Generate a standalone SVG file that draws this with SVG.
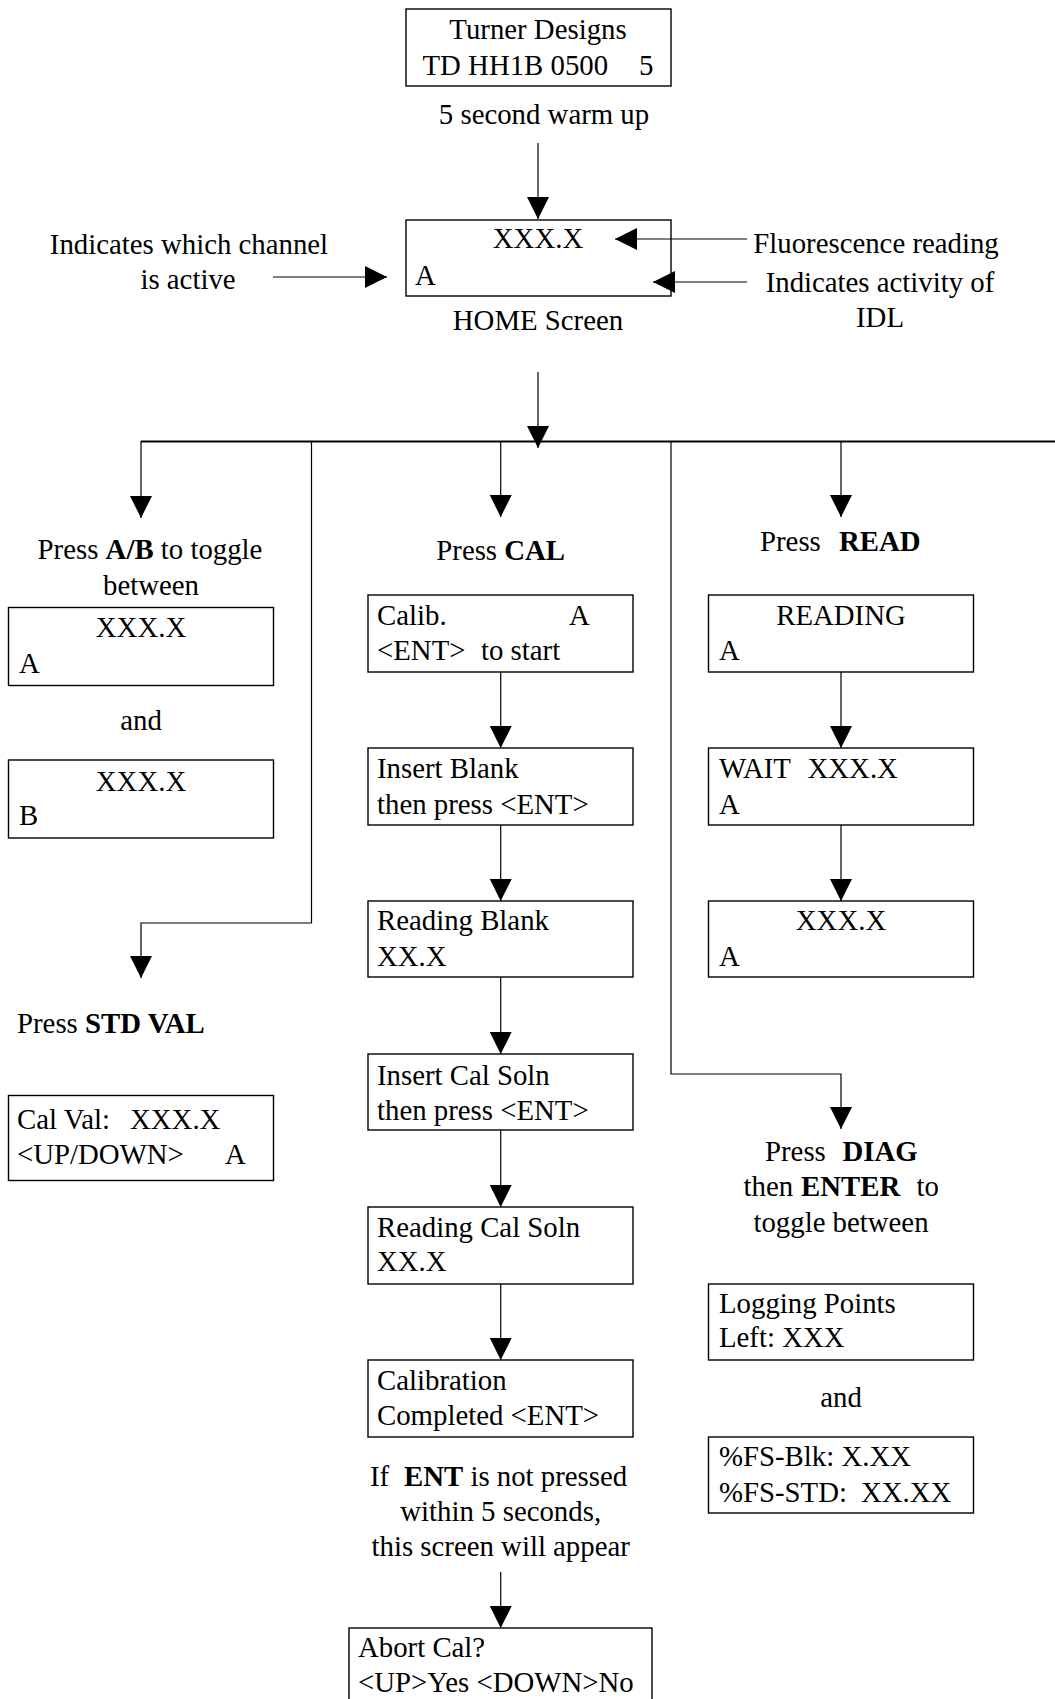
<svg xmlns="http://www.w3.org/2000/svg" width="1055" height="1699" viewBox="0 0 1055 1699">
<style>
text{font-family:"Liberation Serif","Times New Roman",serif;font-size:28.8px;fill:#000}
.m{text-anchor:middle}
.b{font-weight:bold}
.box{fill:none;stroke:#000;stroke-width:1.4}
.c{fill:none;stroke:#000;stroke-width:1.2}
.bus{fill:none;stroke:#000;stroke-width:2.2}
</style>
<defs>
<marker id="ah" markerUnits="userSpaceOnUse" markerWidth="22" markerHeight="22" refX="22" refY="11" orient="auto">
<path d="M0,0 L22,11 L0,22 z" fill="#000"/>
</marker>
</defs>
<rect width="1055" height="1699" fill="#fff"/>

<g id="n-startup">
<rect class="box" x="406" y="9" width="265" height="77"/>
<text class="m" x="538" y="39">Turner Designs</text>
<text x="422.5" y="75">TD HH1B 0500<tspan x="639">5</tspan></text>
</g>
<text id="t-warmup" class="m" x="544" y="124">5 second warm up</text>

<g id="n-home">
<rect class="box" x="406" y="220" width="265" height="76"/>
<text class="m" x="538" y="248">XXX.X</text>
<text x="415" y="285">A</text>
</g>
<text id="t-home" class="m" x="538" y="330">HOME Screen</text>
<g id="t-channel">
<text class="m" x="189" y="254">Indicates which channel</text>
<text class="m" x="188" y="289">is active</text>
</g>
<text id="t-fluor" class="m" x="876" y="253">Fluorescence reading</text>
<g id="t-idl">
<text class="m" x="880" y="292">Indicates activity of</text>
<text class="m" x="880" y="327">IDL</text>
</g>

<g id="col-ab">
<text class="m" x="150" y="559">Press <tspan class="b">A/B</tspan> to toggle</text>
<text class="m" x="151" y="595">between</text>
<g id="n-ab1">
<rect class="box" x="8.5" y="607.5" width="265" height="78"/>
<text class="m" x="141" y="637">XXX.X</text>
<text x="19" y="673">A</text>
</g>
<text class="m" x="141" y="730">and</text>
<g id="n-ab2">
<rect class="box" x="8.5" y="760" width="265" height="78"/>
<text class="m" x="141" y="791">XXX.X</text>
<text x="19" y="825">B</text>
</g>
</g>

<g id="col-std">
<text x="17" y="1033">Press <tspan class="b">STD VAL</tspan></text>
<g id="n-calval">
<rect class="box" x="8.5" y="1095.5" width="265" height="85"/>
<text x="17" y="1129">Cal Val:<tspan x="130">XXX.X</tspan></text>
<text x="17" y="1164">&lt;UP/DOWN&gt;<tspan x="225">A</tspan></text>
</g>
</g>

<g id="col-cal">
<text class="m" x="500.7" y="560">Press <tspan class="b">CAL</tspan></text>
<g id="n-calib">
<rect class="box" x="368" y="595" width="265" height="77"/>
<text x="377" y="625">Calib.<tspan x="569">A</tspan></text>
<text x="377" y="660">&lt;ENT&gt;<tspan x="481">to start</tspan></text>
</g>
<g id="n-insblank">
<rect class="box" x="368" y="748" width="265" height="77"/>
<text x="377" y="778">Insert Blank</text>
<text x="377" y="814">then press &lt;ENT&gt;</text>
</g>
<g id="n-readblank">
<rect class="box" x="368" y="901" width="265" height="76"/>
<text x="377" y="930">Reading Blank</text>
<text x="377" y="966">XX.X</text>
</g>
<g id="n-inscal">
<rect class="box" x="368" y="1054" width="265" height="76"/>
<text x="377" y="1085">Insert Cal Soln</text>
<text x="377" y="1120">then press &lt;ENT&gt;</text>
</g>
<g id="n-readcal">
<rect class="box" x="368" y="1207" width="265" height="77"/>
<text x="377" y="1237">Reading Cal Soln</text>
<text x="377" y="1271">XX.X</text>
</g>
<g id="n-calcomp">
<rect class="box" x="368" y="1360" width="265" height="77"/>
<text x="377" y="1390">Calibration</text>
<text x="377" y="1425">Completed &lt;ENT&gt;</text>
</g>
<text x="370" y="1486">If <tspan class="b" x="404">ENT</tspan> is not pressed</text>
<text class="m" x="500.7" y="1521">within 5 seconds,</text>
<text class="m" x="500.7" y="1556">this screen will appear</text>
<g id="n-abort">
<rect class="box" x="349" y="1628" width="303" height="90"/>
<text x="358" y="1657">Abort Cal?</text>
<text x="358" y="1692">&lt;UP&gt;Yes &lt;DOWN&gt;No</text>
</g>
</g>

<g id="col-read">
<text x="760" y="551">Press<tspan class="b" x="839">READ</tspan></text>
<g id="n-reading">
<rect class="box" x="708.5" y="595" width="265" height="77"/>
<text class="m" x="841" y="625">READING</text>
<text x="719" y="660">A</text>
</g>
<g id="n-wait">
<rect class="box" x="708.5" y="748" width="265" height="77"/>
<text x="719" y="778">WAIT<tspan x="807.5">XXX.X</tspan></text>
<text x="719" y="814">A</text>
</g>
<g id="n-result">
<rect class="box" x="708.5" y="901" width="265" height="76"/>
<text class="m" x="841" y="930">XXX.X</text>
<text x="719" y="966">A</text>
</g>
</g>

<g id="col-diag">
<text x="765" y="1161">Press<tspan class="b" x="842.5">DIAG</tspan></text>
<text x="743.6" y="1196">then <tspan class="b" x="801">ENTER</tspan><tspan x="916.6">to</tspan></text>
<text class="m" x="841" y="1232">toggle between</text>
<g id="n-logging">
<rect class="box" x="708.5" y="1284" width="265" height="76"/>
<text x="719" y="1313">Logging Points</text>
<text x="719" y="1347">Left: XXX</text>
</g>
<text class="m" x="841" y="1407">and</text>
<g id="n-fs">
<rect class="box" x="708.5" y="1437" width="265" height="76"/>
<text x="719" y="1466">%FS-Blk: X.XX</text>
<text x="719" y="1502">%FS-STD:<tspan x="861">XX.XX</tspan></text>
</g>
</g>

<g id="connectors">
<path class="c" d="M538,143 V219" marker-end="url(#ah)"/>
<path class="c" d="M747,239 H615" marker-end="url(#ah)"/>
<path class="c" d="M747,282 H653" marker-end="url(#ah)"/>
<path class="c" d="M273,277 H387" marker-end="url(#ah)"/>
<path class="bus" d="M141,441.5 H1055"/>
<path class="c" d="M141,441 V518" marker-end="url(#ah)"/>
<path class="c" d="M311.5,441 V923 H141 V978" marker-end="url(#ah)"/>
<path class="c" d="M500.7,441 V517" marker-end="url(#ah)"/>
<path class="c" d="M671,441 V1074 H841 V1129" marker-end="url(#ah)"/>
<path class="c" d="M841,441 V517" marker-end="url(#ah)"/>
<path class="c" d="M500.7,672 V748" marker-end="url(#ah)"/>
<path class="c" d="M500.7,825 V901" marker-end="url(#ah)"/>
<path class="c" d="M500.7,977 V1054" marker-end="url(#ah)"/>
<path class="c" d="M500.7,1130 V1207" marker-end="url(#ah)"/>
<path class="c" d="M500.7,1284 V1360" marker-end="url(#ah)"/>
<path class="c" d="M500.7,1572 V1628" marker-end="url(#ah)"/>
<path class="c" d="M841,672 V748" marker-end="url(#ah)"/>
<path class="c" d="M841,825 V901" marker-end="url(#ah)"/>
<path class="c" d="M538,372 V448" marker-end="url(#ah)"/>
</g>
</svg>
